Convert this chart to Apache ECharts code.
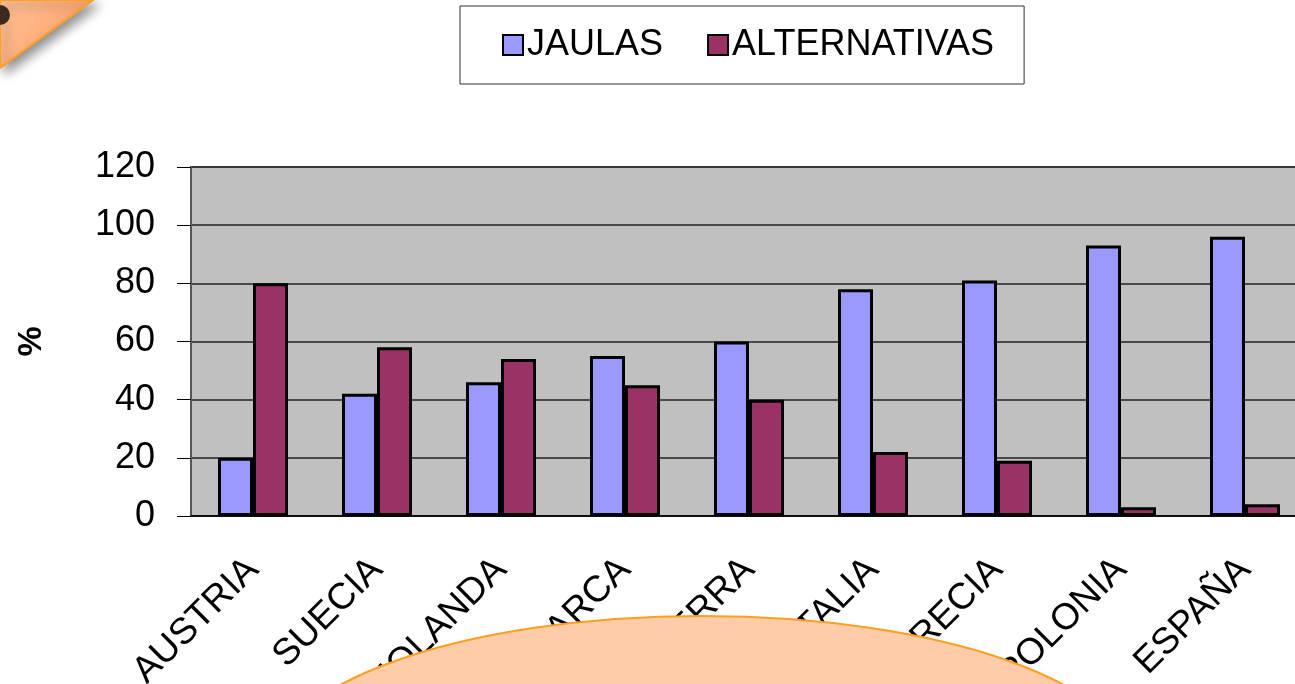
<!DOCTYPE html>
<html>
<head>
<meta charset="utf-8">
<script src="https://cdn.jsdelivr.net/npm/echarts@6/dist/echarts.min.js"></script>
<style>
  html, body { margin: 0; padding: 0; background: #fff; }
  #chart { width: 1295px; height: 684px; }
</style>
</head>
<body>
<div id="chart"></div>
<script>
const paises = ['AUSTRIA', 'SUECIA', 'HOLANDA', 'DINAMARCA', 'INGLATERRA', 'ITALIA', 'GRECIA', 'POLONIA', 'ESPAÑA']
const jaulas = [20, 42, 46, 55, 60, 78, 81, 93, 96]
const alternativas = [80, 58, 54, 45, 40, 22, 19, 3, 4]
const yTicks = [0, 20, 40, 60, 80, 100, 120]

const font = 'Liberation Sans, Arial, sans-serif'
const myChart = echarts.init(document.getElementById('chart'))

const option = {
  animation: false,
  textStyle: { fontFamily: font },
  legend: {
    left: 460,
    top: 6,
    padding: [21, 30, 21, 42],
    itemWidth: 20,
    itemHeight: 20,
    itemGap: 44,
    borderColor: '#333',
    borderWidth: 1,
    backgroundColor: '#fff',
    icon: 'rect',
    textStyle: { fontSize: 36, color: '#000', fontFamily: font, padding: [0, 0, 0, -1] },
    data: ['JAULAS', 'ALTERNATIVAS'],
  },
  grid: {
    left: 191,
    top: 167,
    width: 1116,
    bottom: 168,
    outerBoundsMode: 'none',
    show: true,
    backgroundColor: '#C0C0C0',
    borderColor: '#808080',
    borderWidth: 2,
  },
  xAxis: {
    type: 'category',
    data: paises,
    axisLine: { lineStyle: { color: '#000', width: 1.5 } },
    axisTick: { length: 12, lineStyle: { color: '#000' } },
    axisLabel: {
      rotate: 45,
      margin: 48,
      fontSize: 37,
      color: '#000',
      fontFamily: font,
      interval: 0,
    },
  },
  yAxis: {
    type: 'value',
    min: yTicks[0],
    max: yTicks[yTicks.length - 1],
    interval: 20,
    name: '%',
    nameLocation: 'middle',
    nameRotate: 90,
    nameGap: 142,
    nameTextStyle: { fontSize: 34, fontWeight: 'bold', color: '#000', fontFamily: font },
    axisLine: { show: true, lineStyle: { color: '#555', width: 2 } },
    axisTick: { show: true, inside: false, length: 14, lineStyle: { color: '#000' } },
    axisLabel: { fontSize: 36, color: '#000', margin: 36, fontFamily: font },
    splitLine: { lineStyle: { color: '#222', width: 1.5 } },
  },
  series: [
    {
      name: 'JAULAS',
      type: 'bar',
      barWidth: 35,
      barGap: '0%',
      itemStyle: { color: '#9999FF', borderColor: '#000', borderWidth: 3 },
      data: jaulas,
    },
    {
      name: 'ALTERNATIVAS',
      type: 'bar',
      barWidth: 35,
      barGap: '0%',
      itemStyle: { color: '#993366', borderColor: '#000', borderWidth: 3 },
      data: alternativas,
    },
  ],
  graphic: [
    // orange corner decoration
    {
      type: 'polygon',
      z: 100,
      shape: { points: [[0, 0], [93, 0], [0, 68]] },
      style: {
        fill: {
          type: 'linear', x: 0, y: 0, x2: 1, y2: 1,
          colorStops: [{ offset: 0, color: '#FFC29A' }, { offset: 1, color: '#FF9A5C' }],
        },
        stroke: '#FFA020',
        lineWidth: 2,
        shadowBlur: 12,
        shadowColor: 'rgba(0,0,0,0.45)',
        shadowOffsetX: 5,
        shadowOffsetY: 5,
      },
    },
    {
      type: 'circle',
      z: 101,
      shape: { cx: 0, cy: 15, r: 10 },
      style: { fill: '#3B2A1E' },
    },
    // peach ellipse at the bottom
    {
      type: 'ellipse',
      z: 100,
      shape: { cx: 702, cy: 766, rx: 430, ry: 150 },
      style: { fill: '#FFCBA8', stroke: '#FF9F1C', lineWidth: 2 },
    },
  ],
}

myChart.setOption(option)
</script>
</body>
</html>
